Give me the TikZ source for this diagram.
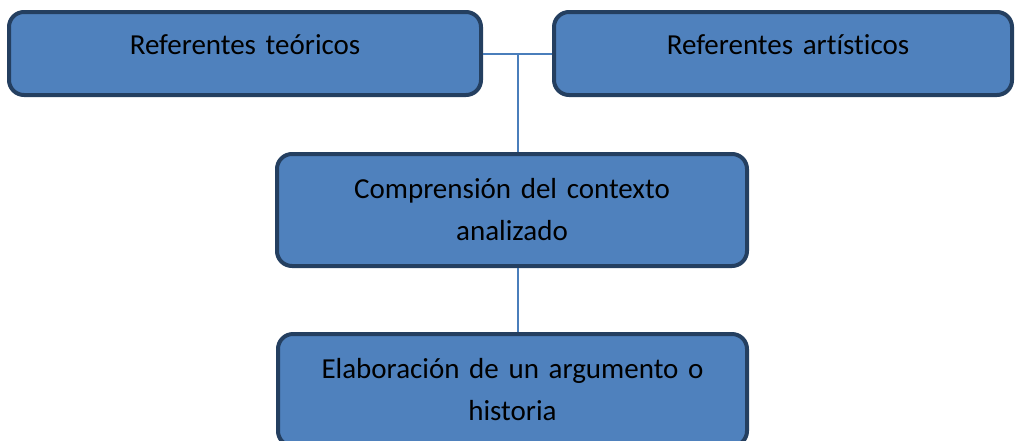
\documentclass[tikz,border=0pt]{standalone}
\usepackage{fontspec}
\setmainfont{Carlito}[Ligatures=NoCommon]
\usepackage{tikz}
\usetikzlibrary{positioning, calc}
\definecolor{boxBlue}{HTML}{4F81BD}
\definecolor{edgeNavy}{HTML}{243F60}
\definecolor{linkBlue}{HTML}{4A7EBB}

\begin{document}
\begin{tikzpicture}[
    x=1pt, y=-1pt,
    box/.style={rectangle, rounded corners=15pt, draw=edgeNavy, line width=4pt, fill=boxBlue, align=center, text width=440pt, font=\fontsize{29}{42}\selectfont},
    topbox/.style={box, minimum height=83pt, text depth=18pt},
    link/.style={draw=linkBlue, line width=2pt},
]
    \useasboundingbox (0,0) rectangle (1016,440);
    \node[topbox, minimum width=472pt] (teo) at (245,53.5) {Referentes teóricos};
    \node[topbox, minimum width=458pt, text width=420pt] (art) at (783,53.5) {\hspace*{10pt}Referentes artísticos};
    \node[box, minimum width=470pt, minimum height=112pt] (ctx) at (512,210) {Comprensión del contexto\\analizado};
    \node[box, minimum width=469pt, minimum height=112pt] (arg) at (512.5,390) {Elaboración de un argumento o\\historia};
    \coordinate (join) at ($(teo.east)!0.5!(art.west)$);
    \draw[link] (teo.east) -- (art.west);
    \draw[link] (join) -- (join |- ctx.north);
    \draw[link] (join |- ctx.south) -- (join |- arg.north);
\end{tikzpicture}
\end{document}
